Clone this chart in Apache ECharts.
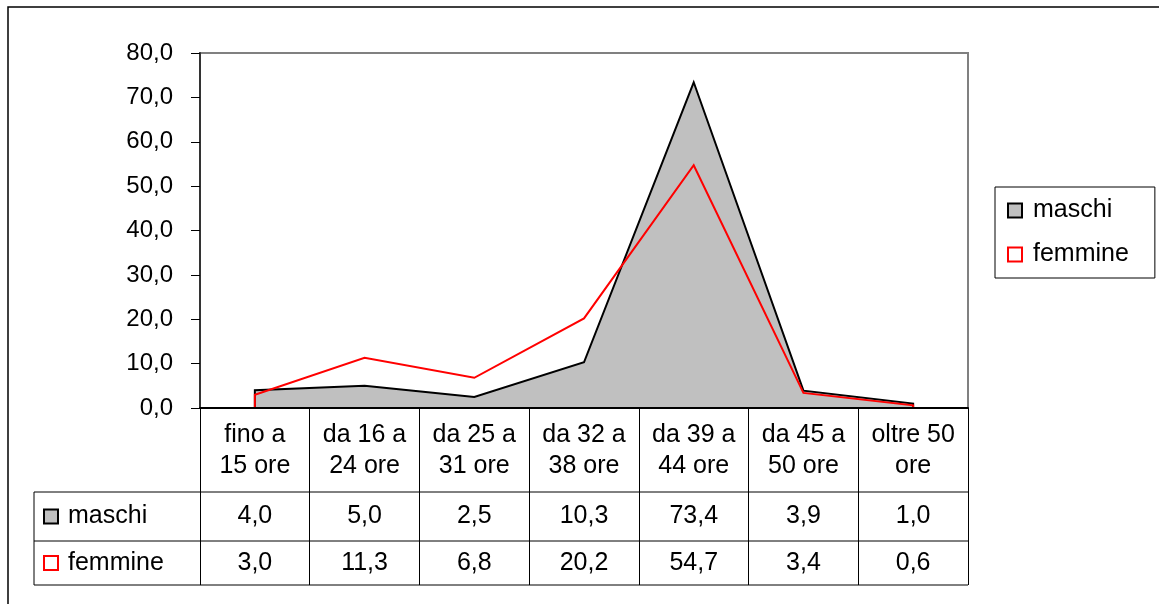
<!DOCTYPE html>
<html>
<head>
<meta charset="utf-8">
<script src="https://cdn.jsdelivr.net/npm/echarts@6/dist/echarts.min.js"></script>
<style>
  html, body { margin: 0; padding: 0; background: #fff; }
  #chart { width: 1159px; height: 604px; }
</style>
</head>
<body>
<div id="chart"></div>
<script>
var categories = ['fino a\n15 ore', 'da 16 a\n24 ore', 'da 25 a\n31 ore', 'da 32 a\n38 ore', 'da 39 a\n44 ore', 'da 45 a\n50 ore', 'oltre 50\nore']
var maschi = [4.0, 5.0, 2.5, 10.3, 73.4, 3.9, 1.0]
var femmine = [3.0, 11.3, 6.8, 20.2, 54.7, 3.4, 0.6]
var yTicks = [0, 10, 20, 30, 40, 50, 60, 70, 80]

var FONT = 'Liberation Sans, Arial, sans-serif'
var FS = 25

function fmt(v) {
  return v.toFixed(1).replace('.', ',')
}

// area shape like excel: drop to 0 at first and last point
function areaItem(values, fill, stroke) {
  return function (params, api) {
    if (params.dataIndex !== 0) return
    var pts = [api.coord([0, 0])]
    for (var i = 0; i < values.length; i++) {
      pts.push(api.coord([i, values[i]]))
    }
    pts.push(api.coord([values.length - 1, 0]))
    return {
      type: 'polygon',
      shape: {points: pts},
      style: {fill: fill, stroke: stroke, lineWidth: 2, lineJoin: 'miter'}
    }
  }
}

var chart = echarts.init(document.getElementById('chart'))
var option = {
  animation: false,
  textStyle: {fontFamily: FONT},
  grid: {
    left: 200,
    right: 191,
    top: 53,
    bottom: 196,
    show: true,
    borderColor: '#808080',
    borderWidth: 2,
    backgroundColor: '#fff'
  },
  legend: {
    left: 995,
    top: 187,
    orient: 'vertical',
    itemWidth: 14,
    itemHeight: 14,
    itemGap: 19,
    padding: [11, 26, 11, 12],
    borderColor: '#000',
    borderWidth: 1,
    textStyle: {fontSize: FS, color: '#000', fontFamily: FONT, padding: [0, 0, 0, 6]},
    data: [
      {name: 'maschi', icon: 'rect', itemStyle: {color: '#c0c0c0', borderColor: '#000', borderWidth: 2}},
      {name: 'femmine', icon: 'rect', itemStyle: {color: '#fff', borderColor: '#ff0000', borderWidth: 2}}
    ]
  },
  xAxis: {
    type: 'category',
    data: categories,
    z: 5,
    axisLine: {lineStyle: {color: '#000', width: 2}},
    axisTick: {show: true, length: 177, lineStyle: {color: '#000', width: 1}},
    axisLabel: {fontSize: FS, color: '#000', lineHeight: 31, margin: 12, interval: 0, fontFamily: FONT}
  },
  yAxis: {
    type: 'value',
    min: 0,
    max: 80,
    interval: 10,
    axisLine: {show: true, lineStyle: {color: '#333', width: 2}},
    axisTick: {show: true, length: 9, lineStyle: {color: '#000'}},
    splitLine: {show: false},
    axisLabel: {fontSize: 24, color: '#000', margin: 27, fontFamily: FONT, formatter: function (v) { return fmt(v) }}
  },
  series: [
    {
      name: 'maschi',
      type: 'custom',
      silent: true,
      itemStyle: {color: '#c0c0c0'},
      renderItem: areaItem(maschi, '#c0c0c0', '#000'),
      data: maschi.map(function (v, i) { return [i, v] }),
      z: 2
    },
    {
      name: 'femmine',
      type: 'custom',
      silent: true,
      itemStyle: {color: '#ff0000'},
      renderItem: areaItem(femmine, 'none', '#ff0000'),
      data: femmine.map(function (v, i) { return [i, v] }),
      z: 3
    }
  ]
}
chart.setOption(option)

// data table under the axis
var x0 = chart.convertToPixel({xAxisIndex: 0}, categories[0])
var x1 = chart.convertToPixel({xAxisIndex: 0}, categories[1])
var colW = x1 - x0
var right = chart.convertToPixel({xAxisIndex: 0}, categories[categories.length - 1]) + colW / 2
var yBase = chart.convertToPixel({yAxisIndex: 0}, 0)
var tableLeft = 34
var rowTop = [yBase + 84, yBase + 133]
var rowBottom = yBase + 177
var rows = [
  {name: 'maschi', values: maschi, fill: '#c0c0c0', stroke: '#000'},
  {name: 'femmine', values: femmine, fill: '#fff', stroke: '#ff0000'}
]

var graphics = []
// outer frame
graphics.push({type: 'rect', shape: {x: 8, y: 7, width: 1200, height: 650}, style: {fill: 'none', stroke: '#000', lineWidth: 1.5}, z: -10})
var lineYs = [rowTop[0], rowTop[1], rowBottom]
lineYs.forEach(function (y) {
  graphics.push({type: 'line', shape: {x1: tableLeft, y1: y, x2: right, y2: y}, style: {stroke: '#000', lineWidth: 1}})
})
graphics.push({type: 'line', shape: {x1: tableLeft, y1: rowTop[0], x2: tableLeft, y2: rowBottom}, style: {stroke: '#000', lineWidth: 1}})

rows.forEach(function (r, ri) {
  var top = rowTop[ri]
  var bot = ri === 0 ? rowTop[1] : rowBottom
  var cy = (top + bot) / 2
  graphics.push({type: 'rect', shape: {x: 44, y: cy - 7, width: 14, height: 14}, style: {fill: r.fill, stroke: r.stroke, lineWidth: 2}})
  graphics.push({type: 'text', x: 68, y: cy, style: {text: r.name, fontSize: FS, fontFamily: FONT, fill: '#000', verticalAlign: 'middle', align: 'left'}})
  r.values.forEach(function (v, i) {
    var cx = chart.convertToPixel({xAxisIndex: 0}, categories[i])
    graphics.push({type: 'text', x: cx, y: cy, style: {text: fmt(v), fontSize: FS, fontFamily: FONT, fill: '#000', align: 'center', verticalAlign: 'middle'}})
  })
})

chart.setOption({graphic: graphics})
</script>
</body>
</html>
